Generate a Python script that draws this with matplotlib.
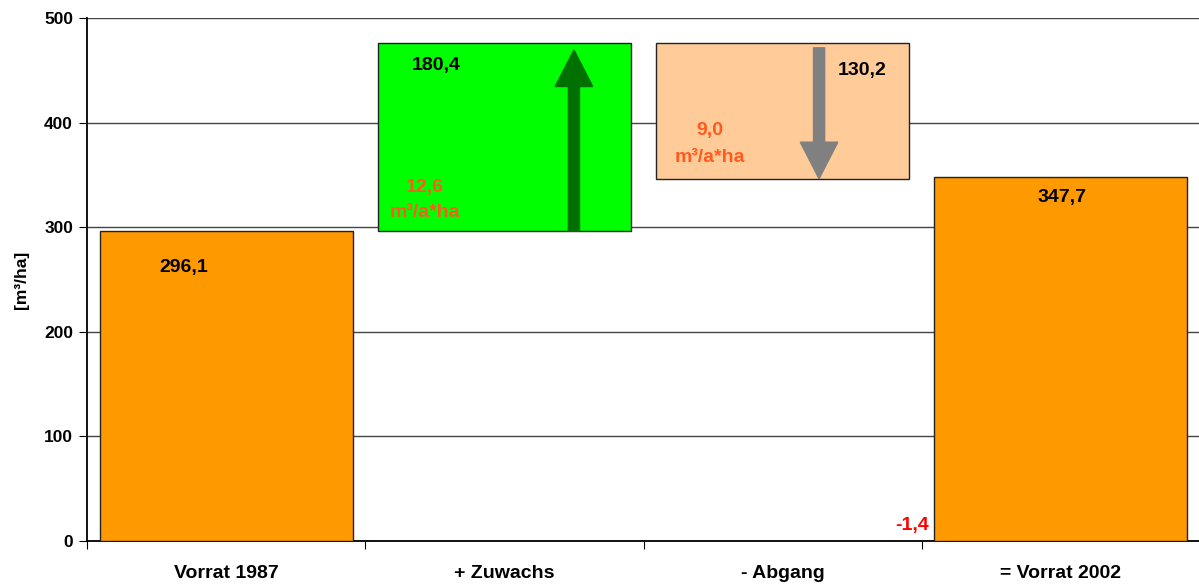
import matplotlib
matplotlib.use("Agg")
import matplotlib.pyplot as plt
from matplotlib.patches import FancyArrow

plt.rcParams['font.family'] = ['Liberation Sans', 'DejaVu Sans']
plt.rcParams['font.weight'] = 'bold'

categories = ["Vorrat 1987", "+ Zuwachs", "- Abgang", "= Vorrat 2002"]
vorrat_1987 = 296.1
zuwachs = 180.4
abgang = 130.2
vorrat_2002 = 347.7
diff = -1.4
zuwachs_rate = "12,6"
abgang_rate = "9,0"
rate_unit = "m³/a*ha"
yticks = [0, 100, 200, 300, 400, 500]

fig = plt.figure(figsize=(11.99, 5.87), dpi=100)
ax = fig.add_axes([87/1199, 1-541/587, (1200-87)/1199, (541-18)/587])

W = 0.91
ec = '#222222'
top = vorrat_1987 + zuwachs
ax.bar(0, vorrat_1987, W, color='#FF9900', edgecolor=ec, lw=1, zorder=3)
ax.bar(1, zuwachs, W, bottom=vorrat_1987, color='#00FF00', edgecolor=ec, lw=1, zorder=3)
ax.bar(2, abgang, W, bottom=top - abgang, color='#FFCC99', edgecolor=ec, lw=1, zorder=3)
ax.bar(3, vorrat_2002, W, color='#FF9900', edgecolor=ec, lw=1, zorder=3)

# arrows
ax.add_patch(FancyArrow(1.25, vorrat_1987, 0, top - 7 - vorrat_1987, width=0.04,
                        head_width=0.135, head_length=35, length_includes_head=True,
                        color='#007000', zorder=4))
ax.add_patch(FancyArrow(2.131, top - 5, 0, -(abgang - 5), width=0.04,
                        head_width=0.135, head_length=35, length_includes_head=True,
                        color='#808080', zorder=4))

fs = 14
fmt = lambda v: f"{v:.1f}".replace('.', ',')
orng = '#FF5A1E'
kw = dict(ha='center', va='center', fontsize=fs, fontweight='bold', zorder=5)
ax.text(-0.151, 261, fmt(vorrat_1987), **kw)
ax.text(0.754, 455, fmt(zuwachs), **kw)
ax.text(0.715, 338, zuwachs_rate, color=orng, **kw)
ax.text(0.715, 314, rate_unit, color=orng, **kw)
ax.text(2.285, 450, fmt(abgang), **kw)
ax.text(1.739, 392, abgang_rate, color=orng, **kw)
ax.text(1.739, 367, rate_unit, color=orng, **kw)
ax.text(3.004, 328, fmt(vorrat_2002), **kw)
ax.text(2.526, 15, fmt(diff), ha='right', va='center', fontsize=fs, fontweight='bold',
        color='#FF0000', zorder=5)

ax.set_xlim(-0.5, 3.5)
ax.set_ylim(0, 500)
ax.set_yticks(yticks)
ax.set_yticklabels([str(t) for t in yticks], fontsize=12.5, fontweight='bold')
ax.yaxis.grid(True, color='#444444', lw=1, zorder=0)
ax.set_axisbelow(True)

ax.set_xticks([-0.5, 0.5, 1.5, 2.5, 3.5])
ax.set_xticklabels([])
ax.set_xticks(range(4), minor=True)
ax.set_xticklabels(categories, minor=True, fontsize=14, fontweight='bold')
ax.tick_params(axis='x', which='minor', length=0, pad=17)
ax.tick_params(axis='x', which='major', length=6, direction='out', color='black')
ax.tick_params(axis='y', length=6, direction='out', pad=4)

ax.spines['top'].set_visible(False)
ax.spines['right'].set_visible(False)
ax.spines['left'].set_linewidth(1.3)
ax.spines['bottom'].set_linewidth(1.3)

ax.set_ylabel("[m³/ha]", fontsize=12.5, fontweight='bold', labelpad=11)

fig.savefig("out.png", dpi=100)
